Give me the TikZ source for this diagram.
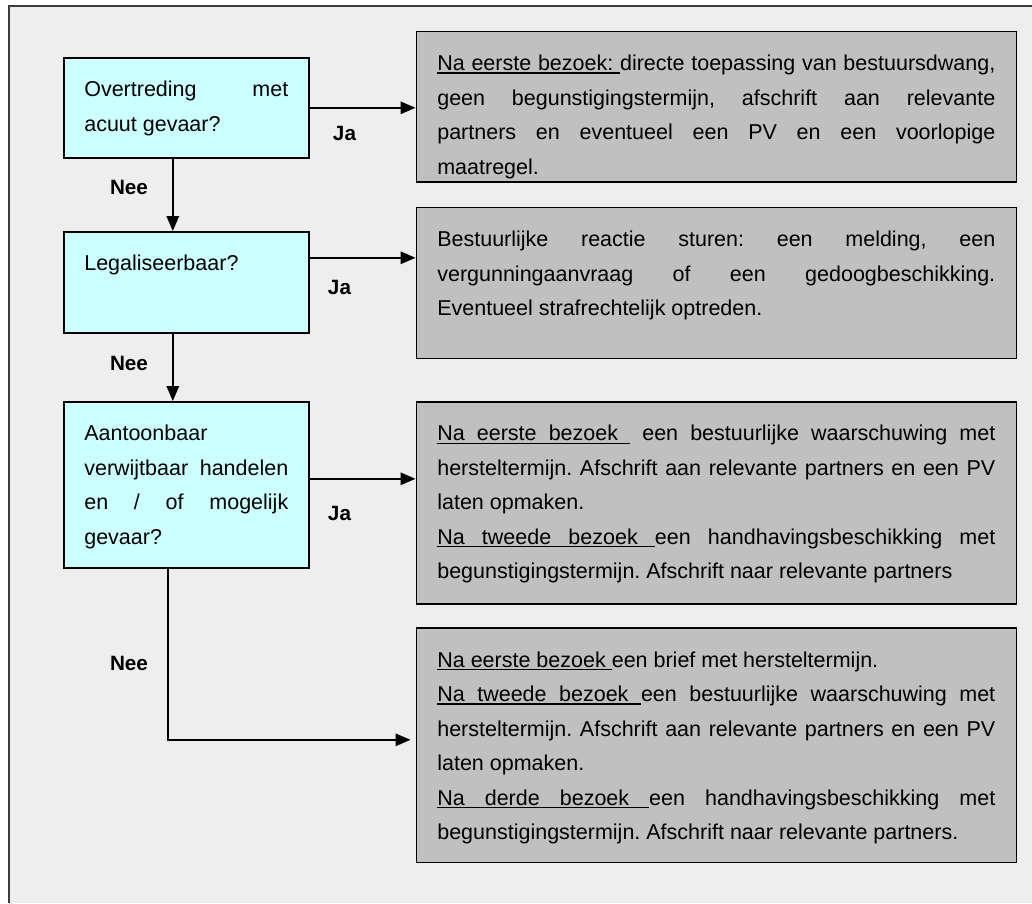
\documentclass[tikz,border=0pt]{standalone}
\usepackage{fontspec}
\setmainfont{Liberation Sans}
\usepackage{tikz}
\usetikzlibrary{arrows.meta, positioning, calc}
\definecolor{bggray}{RGB}{238,238,238}
\definecolor{framegray}{RGB}{60,60,60}
\definecolor{qcyan}{RGB}{204,255,255}
\definecolor{agray}{RGB}{192,192,192}
\newcommand{\txtfont}{\fontsize{21.5}{34.5}\selectfont}
\newcommand{\lblfont}{\fontsize{20.7}{24}\selectfont\bfseries}
% underlined word and underlined (stretchable) space
\newcommand{\ulw}[1]{\leavevmode{\setbox0\hbox{#1}\rlap{\vrule height -1.8pt depth 3.1pt width \wd0}\box0}}
\newcommand{\uls}{\leaders\hrule height -1.8pt depth 3.1pt\hskip\fontdimen2\font plus\fontdimen3\font minus\fontdimen4\font\relax}
% text block of fixed height, first baseline 39pt below the top
\newcommand{\boxtxt}[3]{\vbox to #1{\hsize=#2\relax\parindent=0pt\frenchspacing\hyphenpenalty=10000\hbadness=10000
  \vskip15pt\rule{0pt}{24pt}#3\par\vfil}}
\tikzset{
  question/.style={rectangle, draw=black, fill=qcyan, line width=1.6pt,
    inner xsep=20.5pt, inner ysep=0pt, anchor=north west, font=\txtfont},
  action/.style={rectangle, draw=black, fill=agray, line width=1.6pt,
    inner xsep=21pt, inner ysep=0pt, anchor=north west, font=\txtfont},
  lbl/.style={font=\lblfont, inner sep=0pt},
  arrow/.style={-{Triangle[length=15pt, width=12.5pt]}, line width=1.5pt, color=black}
}

\begin{document}
\begin{tikzpicture}[x=1pt, y=-1pt]
  \useasboundingbox (0,0) rectangle (1032,903);
  % Frame
  \fill[white] (0,0) rectangle (1032,903);
  \fill[bggray] (9,6) rectangle (1032,903);
  \draw[framegray, line width=2.2pt] (9,903) -- (9,6) -- (1032,6);

  % Questions (left column)
  \node[question] (q1) at (63,57) {\boxtxt{100pt}{204pt}{Overtreding met\linebreak acuut gevaar?}};
  \node[question] (q2) at (63,231) {\boxtxt{101pt}{204pt}{Legaliseerbaar?}};
  \node[question] (q3) at (63,401) {\boxtxt{166pt}{204pt}{Aantoonbaar\linebreak verwijtbaar handelen\linebreak en / of mogelijk\linebreak gevaar?}};

  % Actions (right column)
  \node[action] (a1) at (415.5,30.7) {\boxtxt{150.6pt}{558pt}{\ulw{Na}\uls\ulw{eerste}\uls\ulw{bezoek:}\uls directe toepassing van bestuursdwang,\linebreak geen begunstigingstermijn, afschrift aan relevante\linebreak partners en eventueel een PV en een voorlopige\linebreak maatregel.}};
  \node[action] (a2) at (415.5,206.7) {\boxtxt{151pt}{558pt}{Bestuurlijke reactie sturen: een melding, een\linebreak vergunningaanvraag of een gedoogbeschikking.\linebreak Eventueel strafrechtelijk optreden.}};
  \node[action] (a3) at (415.5,401) {\boxtxt{202.3pt}{558pt}{\ulw{Na}\uls\ulw{eerste}\uls\ulw{bezoek}\uls\ een bestuurlijke waarschuwing met\linebreak hersteltermijn. Afschrift aan relevante partners en een PV\linebreak laten opmaken.\par
    \ulw{Na}\uls\ulw{tweede}\uls\ulw{bezoek}\uls een handhavingsbeschikking met\linebreak begunstigingstermijn. Afschrift naar relevante partners}};
  \node[action] (a4) at (415.5,627.3) {\boxtxt{234.4pt}{558pt}{\ulw{Na}\uls\ulw{eerste}\uls\ulw{bezoek}\uls een brief met hersteltermijn.\par
    \ulw{Na}\uls\ulw{tweede}\uls\ulw{bezoek}\uls een bestuurlijke waarschuwing met\linebreak hersteltermijn. Afschrift aan relevante partners en een PV\linebreak laten opmaken.\par
    \ulw{Na}\uls\ulw{derde}\uls\ulw{bezoek}\uls een handhavingsbeschikking met\linebreak begunstigingstermijn. Afschrift naar relevante partners.}};

  % Nee flow
  \draw[arrow] ([xshift=-13.5pt]q1.south) -- ([xshift=-13.5pt]q2.north);
  \draw[arrow] ([xshift=-13.5pt]q2.south) -- ([xshift=-13.5pt]q3.north);
  \draw[arrow, shorten >=5pt] ([xshift=-18.5pt]q3.south) |- ([yshift=5.5pt]a4.west);

  % Ja flow
  \coordinate (j1) at (q1.east);
  \coordinate (j2) at ([yshift=24.5pt]q2.east);
  \coordinate (j3) at ([yshift=6pt]q3.east);
  \draw[arrow] (j1) -- (j1 -| a1.west);
  \draw[arrow] (j2) -- (j2 -| a2.west);
  \draw[arrow] (j3) -- (j3 -| a3.west);

  % Labels
  \node[lbl] (ja1) at (344.5,133) {Ja};
  \node[lbl] (ja2) at (339.5,287) {Ja};
  \node[lbl] (ja3) at (339.5,513) {Ja};
  \node[lbl] (nee1) at (129,187) {Nee};
  \node[lbl] (nee2) at (129,363) {Nee};
  \node[lbl] (nee3) at (129,663) {Nee};
\end{tikzpicture}
\end{document}
